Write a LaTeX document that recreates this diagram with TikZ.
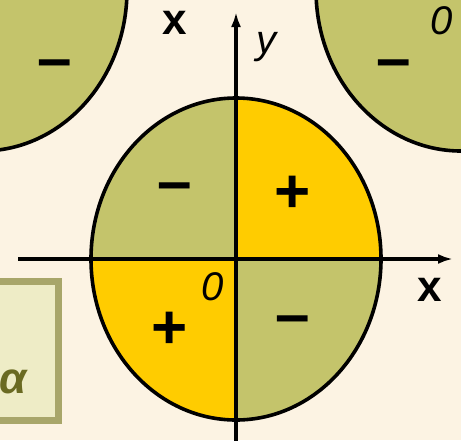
\documentclass[tikz,border=0pt]{standalone}
\usepackage{fontspec}
\setmainfont{Liberation Sans}
\usetikzlibrary{arrows.meta}
\definecolor{bgc}{HTML}{FCF3E3}
\definecolor{olivefill}{HTML}{C4C46B}
\definecolor{goldfill}{HTML}{FFCC00}
\definecolor{boxborder}{HTML}{A8A66A}
\definecolor{boxfill}{HTML}{EEECC6}
\definecolor{alphacol}{HTML}{6A6A22}
\tikzset{
  outline/.style={draw=black, line width=3.6pt},
  axisline/.style={draw=black, line width=3.6pt, -{Latex[length=15pt,width=10pt]}},
  signtxt/.style={font=\fontsize{62}{62}\selectfont\bfseries, inner sep=0pt},
  axlab/.style={font=\fontsize{44}{44}\selectfont\bfseries, inner sep=0pt},
  itlab/.style={font=\fontsize{40}{40}\selectfont\itshape, inner sep=0pt},
}
\begin{document}
\begin{tikzpicture}[x=1pt,y=-1pt]
\useasboundingbox (0,0) rectangle (461,440);
\clip (0,0) rectangle (461,440);
\fill[bgc] (0,0) rectangle (461,440);
% side circles
\filldraw[fill=olivefill, outline] (-18,-10) ellipse [x radius=145, y radius=161];
\filldraw[fill=olivefill, outline] (461,-10) ellipse [x radius=145, y radius=161];
% box
\filldraw[fill=boxfill, draw=boxborder, line width=7pt] (-20,281) rectangle (58,420);
\node[font=\fontsize{44}{44}\selectfont\bfseries\itshape, text=alphacol, inner sep=0pt] (alpha) at (13,382) {α};
% main ellipse quadrants
\begin{scope}
\clip (236,259) ellipse [x radius=145, y radius=161];
\fill[olivefill] (236,259) rectangle (80,90);
\fill[goldfill] (236,259) rectangle (390,90);
\fill[goldfill] (236,259) rectangle (80,430);
\fill[olivefill] (236,259) rectangle (390,430);
\end{scope}
\draw[outline] (236,259) ellipse [x radius=145, y radius=161];
% axes
\coordinate (xs) at (18,259);
\coordinate (xe) at (453,259);
\coordinate (ys) at (236,445);
\coordinate (ye) at (236,12);
\draw[axisline] (xs) -- (xe);
\draw[axisline] (ys) -- (ye);
% signs
\node[signtxt] (m1) at (55,70) {–};
\node[signtxt] (m2) at (394,70) {–};
\node[signtxt] (m3) at (175,193) {–};
\node[signtxt] (p1) at (293,194) {+};
\node[signtxt] (p2) at (170,330) {+};
\node[signtxt] (m4) at (293,326) {–};
% labels
\node[axlab] (xt) at (175,23) {x};
\node[axlab] (xr) at (430,290) {x};
\node[itlab, anchor=base] (yl) at (266,53) {y};
\node[itlab] (o1) at (442,21) {0};
\node[itlab] (o2) at (213,287) {0};
\end{tikzpicture}
\end{document}
